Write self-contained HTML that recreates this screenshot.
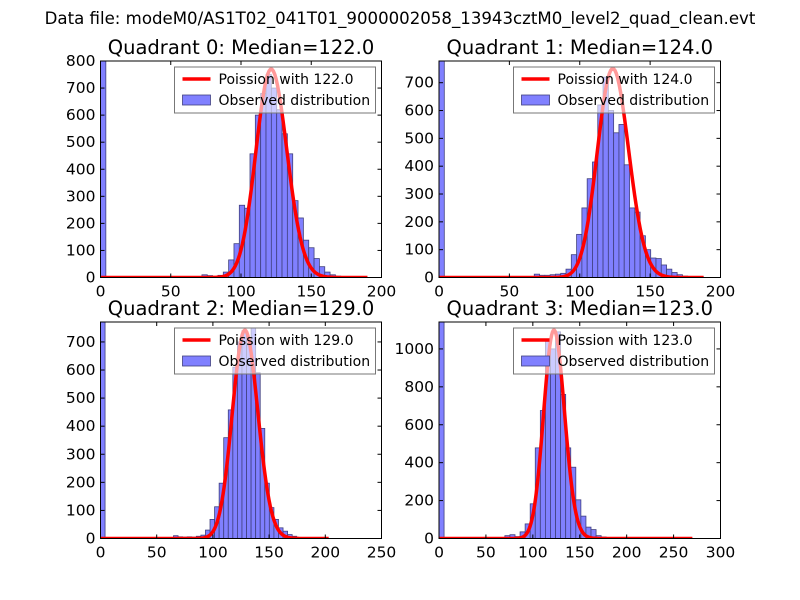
<!DOCTYPE html>
<html><head><meta charset="utf-8"><style>
body{margin:0;background:#fff;}
svg{display:block;font-family:"DejaVu Sans","Liberation Sans",sans-serif;}
</style></head><body>
<svg id="fig" width="800" height="600" viewBox="0 0 800 600">
<rect width="800" height="600" fill="#fff"/>
<text x="400" y="24" text-anchor="middle" font-size="16.6">Data file: modeM0/AS1T02_041T01_9000002058_13943cztM0_level2_quad_clean.evt</text>
</svg>
<script>
const titles = ["Quadrant 0: Median=122.0","Quadrant 1: Median=124.0","Quadrant 2: Median=129.0","Quadrant 3: Median=123.0"];
const medians = [122, 124, 129, 123];
const binMax = [190, 188, 203, 270];
const xTicks0 = [0,50,100,150,200];
const xTicks1 = [0,50,100,150,200];
const xTicks2 = [0,50,100,150,200,250];
const xTicks3 = [0,50,100,150,200,250,300];
const yTicks0 = [0,100,200,300,400,500,600,700,800];
const yTicks1 = [0,100,200,300,400,500,600,700];
const yTicks2 = [0,100,200,300,400,500,600,700];
const yTicks3 = [0,200,400,600,800,1000];
const poissonPeak = [770, 751, 742, 1100];
const counts0 = [800,0,0,0,0,0,0,0,0,0,0,0,0,0,0,2,3,4,2,10,7,2,8,20,65,125,267,256,457,600,680,750,700,620,531,457,284,220,138,110,70,40,20,10,5,2,1,1,0,0];
const counts1 = [778,0,0,0,0,0,0,0,0,0,0,0,0,0,0,0,0,0,12,8,8,10,12,15,30,82,155,250,355,415,620,720,600,520,550,405,250,235,150,100,70,68,45,30,18,10,5,3,1,1];
const counts2 = [771,0,0,0,0,0,0,0,0,0,0,0,0,0,0,0,10,6,5,6,5,8,12,30,68,113,197,359,458,610,700,740,690,750,590,392,197,110,68,38,26,14,8,4,2,1,0,0,0,1];
const counts3 = [1142,0,0,0,0,0,0,0,0,0,0,0,0,15,20,10,35,77,183,478,675,1040,1000,1090,760,478,376,204,118,60,47,15,8,4,3,2,2,1,1,1,1,1,1,1,0,0,0,0,0,1];

const allCounts=[counts0,counts1,counts2,counts3];
const allX=[xTicks0,xTicks1,xTicks2,xTicks3];
const allY=[yTicks0,yTicks1,yTicks2,yTicks3];
const boxes=[[100.5,61,381.5,277.5],[439,61,720.5,277.5],[100.5,322,381.5,538.5],[439,322,720.5,538.5]];
const NS="http://www.w3.org/2000/svg";
const svg=document.getElementById('fig');
function mk(tag,attrs,parent){const e=document.createElementNS(NS,tag);for(const k in attrs)e.setAttribute(k,attrs[k]);(parent||svg).appendChild(e);return e;}
function lgamma(n){let s=0;for(let i=2;i<=n;i++)s+=Math.log(i);return s;}

for(let q=0;q<4;q++){
  const [x0,y0,x1,y1]=boxes[q];
  const xt=allX[q], yt=allY[q], c=allCounts[q];
  const xmaxA=xt[xt.length-1];
  const ymaxA=Math.max(...c);
  const sx=v=>x0+(v/xmaxA)*(x1-x0);
  const sy=v=>y1-(v/ymaxA)*(y1-y0);
  const g=mk('g',{});
  
  
  const t=mk('text',{x:(x0+x1)/2,y:y0-7,'text-anchor':'middle','font-size':19.5},g);
  t.textContent=titles[q];
  
  
  const clipId='clip'+q;
  const cp=mk('clipPath',{id:clipId},g);
  mk('rect',{x:x0,y:y0,width:x1-x0,height:y1-y0},cp);
  const plot=mk('g',{'clip-path':'url(#'+clipId+')'},g);
  const bw=binMax[q]/c.length;
  for(let i=0;i<c.length;i++){
    if(c[i]<=0)continue;
    const r=mk('rect',{x:sx(i*bw),y:sy(c[i]),width:sx(bw)-sx(0),height:y1-sy(c[i]),fill:'#8080ff',stroke:'#40407f','stroke-width':0.8},plot);
    
    
  }
  const lam=medians[q];
  const N=poissonPeak[q]*Math.sqrt(2*Math.PI*lam);
  let d='';
  for(let k=0;k<=Math.round(binMax[q]);k++){
    const y=N*Math.exp(-lam+k*Math.log(lam)-lgamma(k));
    d+=(k?'L':'M')+sx(k).toFixed(2)+','+sy(y).toFixed(2);
  }
  const pl=mk('path',{d:d,fill:'none',stroke:'#ff0000','stroke-width':3.5,'stroke-linejoin':'round'},plot);
  
  
  mk('rect',{x:x0,y:y0,width:x1-x0,height:y1-y0,fill:'none',stroke:'#000','stroke-width':1},g);
  for(const v of xt){
    const X=sx(v);
    mk('line',{x1:X,y1:y1,x2:X,y2:y1-4,stroke:'#000'},g);
    mk('line',{x1:X,y1:y0,x2:X,y2:y0+4,stroke:'#000'},g);
    const tl=mk('text',{x:X,y:y1+19,'text-anchor':'middle','font-size':15.5},g);
    tl.textContent=v;
    
    
  }
  for(const v of yt){
    const Y=sy(v);
    mk('line',{x1:x0,y1:Y,x2:x0+4,y2:Y,stroke:'#000'},g);
    mk('line',{x1:x1,y1:Y,x2:x1-4,y2:Y,stroke:'#000'},g);
    const tl=mk('text',{x:x0-5,y:Y+5,'text-anchor':'end','font-size':15.5},g);
    tl.textContent=v;
    
    
  }
  const lx=x1-207, ly=y0+6;
  const lg=mk('g',{},g);
  
  
  mk('rect',{x:lx,y:ly,width:201,height:46,fill:'#fff','fill-opacity':0.6,stroke:'#777','stroke-width':1},lg);
  mk('line',{x1:lx+8,y1:ly+12,x2:lx+36,y2:ly+12,stroke:'#ff0000','stroke-width':3.5},lg);
  const l1=mk('text',{x:lx+44,y:ly+17,'font-size':14},lg);
  l1.textContent='Poission with '+medians[q].toFixed(1);
  
  
  mk('rect',{x:lx+8,y:ly+28,width:28,height:10,fill:'#8080ff',stroke:'#40407f','stroke-width':0.8},lg);
  const l2=mk('text',{x:lx+44,y:ly+38,'font-size':14},lg);
  l2.textContent='Observed distribution';
  
  
}
</script>
</body></html>
